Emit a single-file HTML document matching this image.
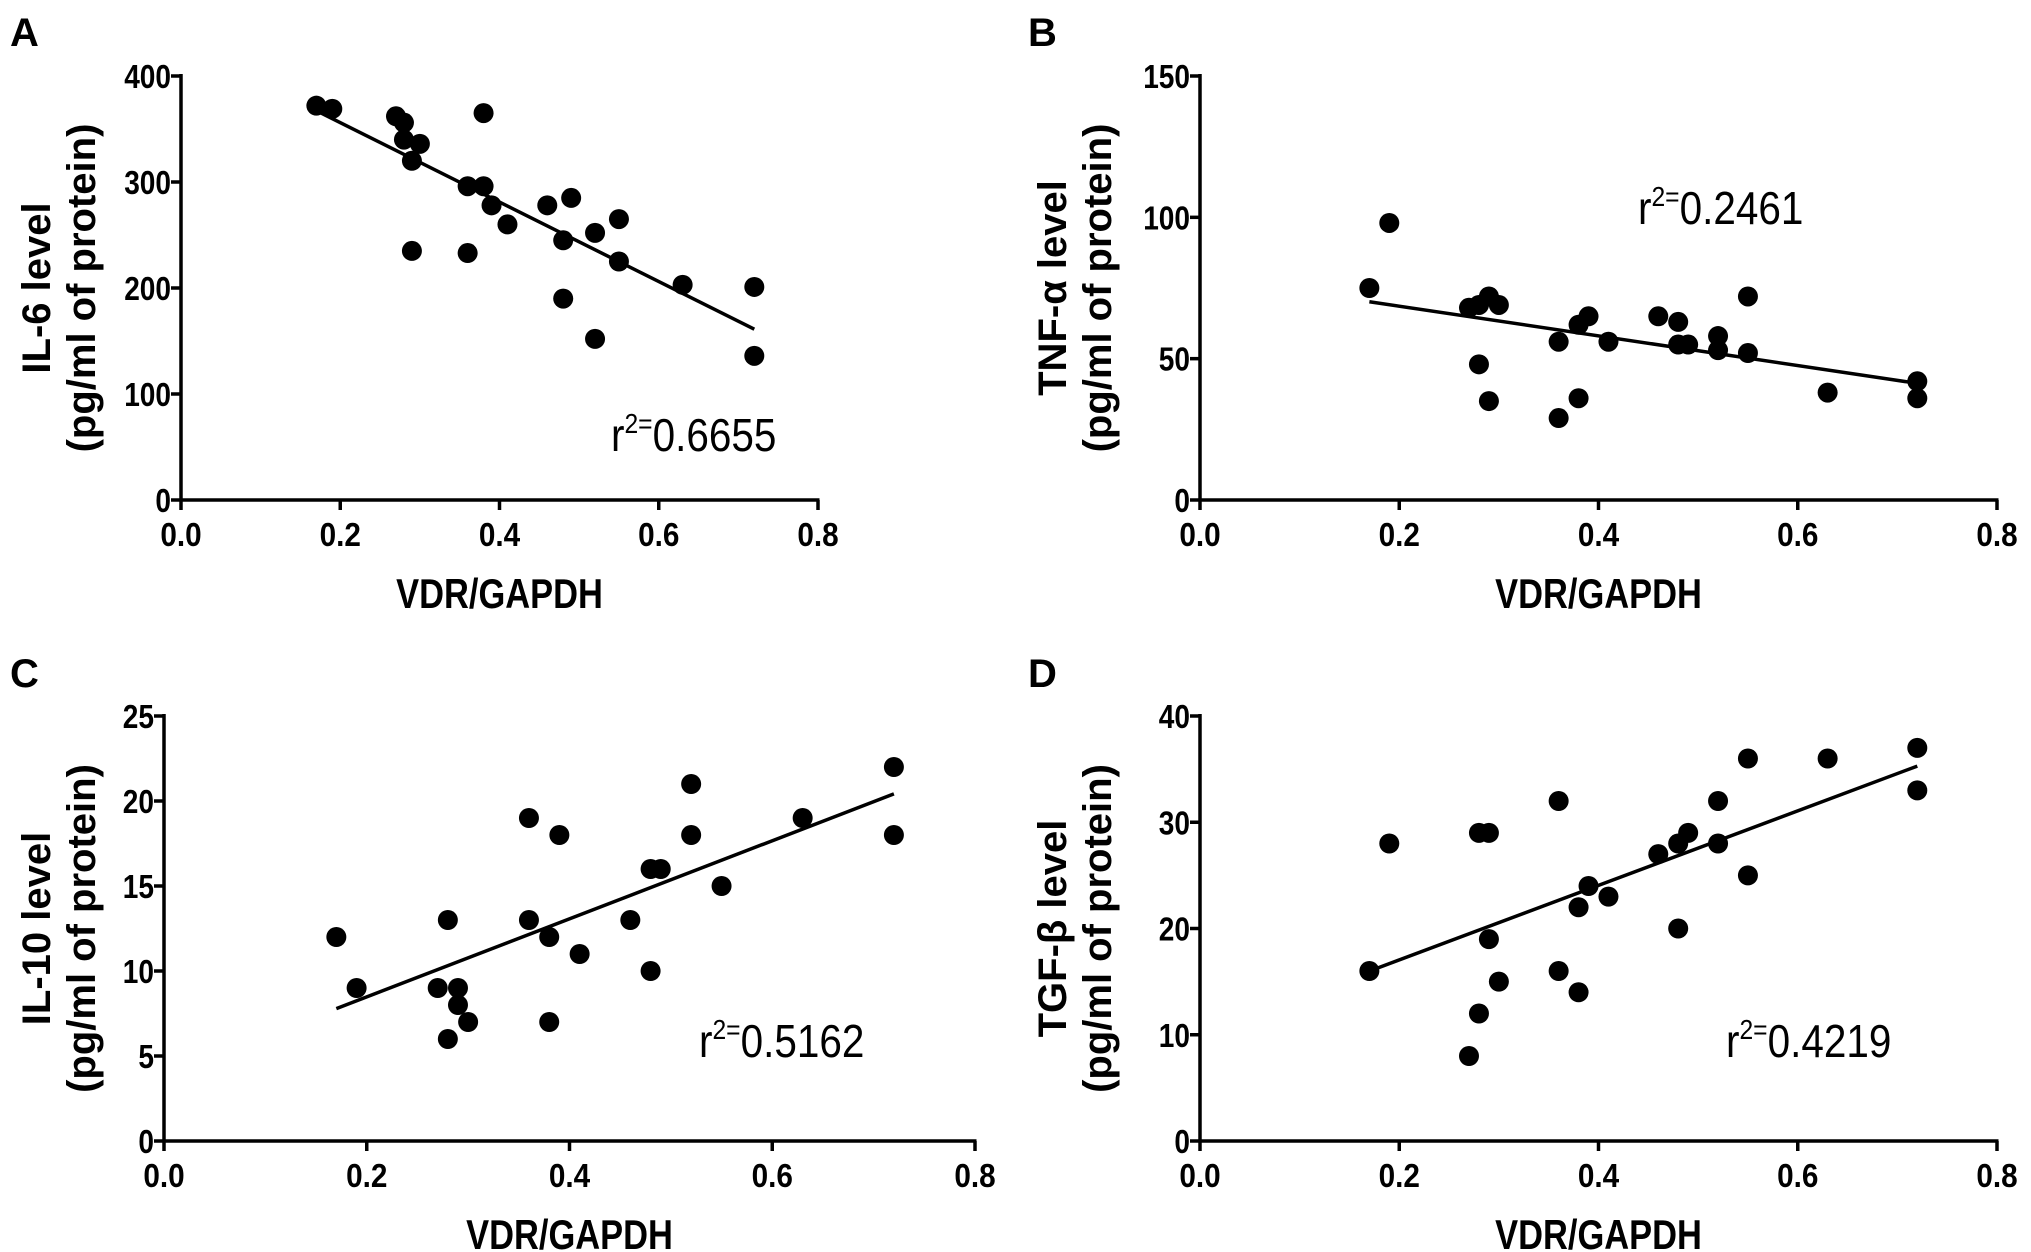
<!DOCTYPE html>
<html><head><meta charset="utf-8"><style>
html,body{margin:0;padding:0;background:#fff;}
svg{display:block;font-family:"Liberation Sans",sans-serif;}
</style></head><body>
<svg id="fig" width="2031" height="1252" viewBox="0 0 2031 1252"></svg>
<script>
const xValsA=[0.17,0.19,0.27,0.28,0.28,0.30,0.29,0.38,0.36,0.38,0.39,0.41,0.29,0.36,0.46,0.49,0.48,0.52,0.55,0.55,0.48,0.63,0.72,0.52,0.72];
const yValsA=[372,369,362,356,340,336,320,365,296,296,278,260,235,233,278,285,245,252,265,225,190,203,201,152,136];
const xValsB=[0.17,0.19,0.27,0.28,0.29,0.30,0.28,0.29,0.36,0.36,0.38,0.38,0.39,0.41,0.46,0.48,0.48,0.49,0.52,0.52,0.55,0.55,0.63,0.72,0.72];
const yValsB=[75,98,68,69,72,69,48,35,56,29,62,36,65,56,65,63,55,55,58,53,72,52,38,42,36];
const xValsC=[0.17,0.19,0.27,0.28,0.28,0.29,0.29,0.30,0.36,0.36,0.38,0.38,0.39,0.41,0.46,0.48,0.49,0.48,0.52,0.52,0.55,0.63,0.72,0.72];
const yValsC=[12,9,9,13,6,9,8,7,19,13,12,7,18,11,13,16,16,10,21,18,15,19,22,18];
const xValsD=[0.17,0.19,0.27,0.28,0.29,0.28,0.29,0.30,0.36,0.36,0.38,0.38,0.39,0.41,0.46,0.48,0.49,0.48,0.52,0.52,0.55,0.55,0.63,0.72,0.72];
const yValsD=[16,28,8,29,29,12,19,15,32,16,22,14,24,23,27,28,29,20,32,28,36,25,36,37,33];
const xTicks=["0.0","0.2","0.4","0.6","0.8"];
const yTicksA=["0","100","200","300","400"];
const yTicksB=["0","50","100","150"];
const yTicksC=["0","5","10","15","20","25"];
const yTicksD=["0","10","20","30","40"];
const r2Labels=["0.6655","0.2461","0.5162","0.4219"];

const NS="http://www.w3.org/2000/svg";
const svg=document.getElementById('fig');
function mk(tag,attrs,parent,text){const e=document.createElementNS(NS,tag);for(const k in attrs)e.setAttribute(k,attrs[k]);if(text!==undefined)e.textContent=text;parent.appendChild(e);return e;}
function squeeze(el,f){const w=el.getComputedTextLength();el.setAttribute('textLength',(w*f).toFixed(1));el.setAttribute('lengthAdjust','spacingAndGlyphs');}

const panels=[
 {id:'a',letter:'A',lx:10,ly:46,x0:181,x1:818,y0:500,y1:76,ymax:400,xs:xValsA,ys:yValsA,yt:yTicksA,t1:'IL-6 level',tx:36,r2:r2Labels[0],rx:611,ry:451},
 {id:'b',letter:'B',lx:1028,ly:46,x0:1200,x1:1997,y0:500,y1:76,ymax:150,xs:xValsB,ys:yValsB,yt:yTicksB,t1:'TNF-α level',tx:1052,r2:r2Labels[1],rx:1638,ry:224},
 {id:'c',letter:'C',lx:10,ly:687,x0:164,x1:975,y0:1141,y1:716,ymax:25,xs:xValsC,ys:yValsC,yt:yTicksC,t1:'IL-10 level',tx:36,r2:r2Labels[2],rx:699,ry:1057},
 {id:'d',letter:'D',lx:1028,ly:687,x0:1200,x1:1997,y0:1141,y1:716,ymax:40,xs:xValsD,ys:yValsD,yt:yTicksD,t1:'TGF-β level',tx:1052,r2:r2Labels[3],rx:1726,ry:1057}
];

panels.forEach(p=>{
 const g=mk('g',{},svg);
 
 
 const sx=v=>p.x0+(v/0.8)*(p.x1-p.x0);
 const sy=v=>p.y0-(v/p.ymax)*(p.y0-p.y1);
 const L=mk('text',{x:p.lx,y:p.ly,'font-size':40,'font-weight':'bold'},g,p.letter);
 
 
 const ya=mk('line',{x1:p.x0,y1:p.y1-2,x2:p.x0,y2:p.y0+1.5,stroke:'#000','stroke-width':3.5},g);
 
 
 const xa=mk('line',{x1:p.x0-1.5,y1:p.y0,x2:p.x1+1.5,y2:p.y0,stroke:'#000','stroke-width':3.5},g);
 
 
 xTicks.forEach(t=>{
  const x=sx(parseFloat(t));
  mk('line',{x1:x,y1:p.y0,x2:x,y2:p.y0+10,stroke:'#000','stroke-width':3.5},g);
  const tl=mk('text',{x:x,y:p.y0+46,'font-size':33,'font-weight':'bold','text-anchor':'middle'},g,t);
  
  
  squeeze(tl,0.9);
 });
 p.yt.forEach(t=>{
  const y=sy(parseFloat(t));
  mk('line',{x1:p.x0-10,y1:y,x2:p.x0,y2:y,stroke:'#000','stroke-width':3.5},g);
  const tl=mk('text',{x:p.x0-10,y:y+12,'font-size':33,'font-weight':'bold','text-anchor':'end'},g,t);
  
  
  squeeze(tl,0.85);
 });
 const xt=mk('text',{x:(p.x0+p.x1)/2,y:p.y0+108,'font-size':42,'font-weight':'bold','text-anchor':'middle'},g,'VDR/GAPDH');
 
 
 squeeze(xt,0.82);
 const cy=(p.y0+p.y1)/2;
 const yt1=mk('text',{x:p.tx,y:cy,'font-size':40,'font-weight':'bold','text-anchor':'middle',transform:`rotate(-90 ${p.tx} ${cy})`,dy:14},g,p.t1);
 
 
 const yt2=mk('text',{x:p.tx+45,y:cy,'font-size':40,'font-weight':'bold','text-anchor':'middle',transform:`rotate(-90 ${p.tx+45} ${cy})`,dy:14},g,'(pg/ml of protein)');
 
 
 const n=p.xs.length;let mx=0,my=0;for(let i=0;i<n;i++){mx+=p.xs[i];my+=p.ys[i];}mx/=n;my/=n;
 let sxy=0,sxx=0;for(let i=0;i<n;i++){sxy+=(p.xs[i]-mx)*(p.ys[i]-my);sxx+=(p.xs[i]-mx)**2;}
 const b=sxy/sxx,a=my-b*mx;const xmin=Math.min(...p.xs),xmax=Math.max(...p.xs);
 const fl=mk('line',{x1:sx(xmin),y1:sy(a+b*xmin),x2:sx(xmax),y2:sy(a+b*xmax),stroke:'#000','stroke-width':3.5},g);
 
 
 for(let i=0;i<n;i++){
  const c=mk('circle',{cx:sx(p.xs[i]),cy:sy(p.ys[i]),r:10,fill:'#000'},g);
  
  
 }
 const r=mk('text',{x:p.rx,y:p.ry,'font-size':46},g);
 
 
 mk('tspan',{},r,'r');
 mk('tspan',{dy:-18,'font-size':28},r,'2=');
 mk('tspan',{dy:18},r,p.r2);
 squeeze(r,0.88);
});
</script>
</body></html>
